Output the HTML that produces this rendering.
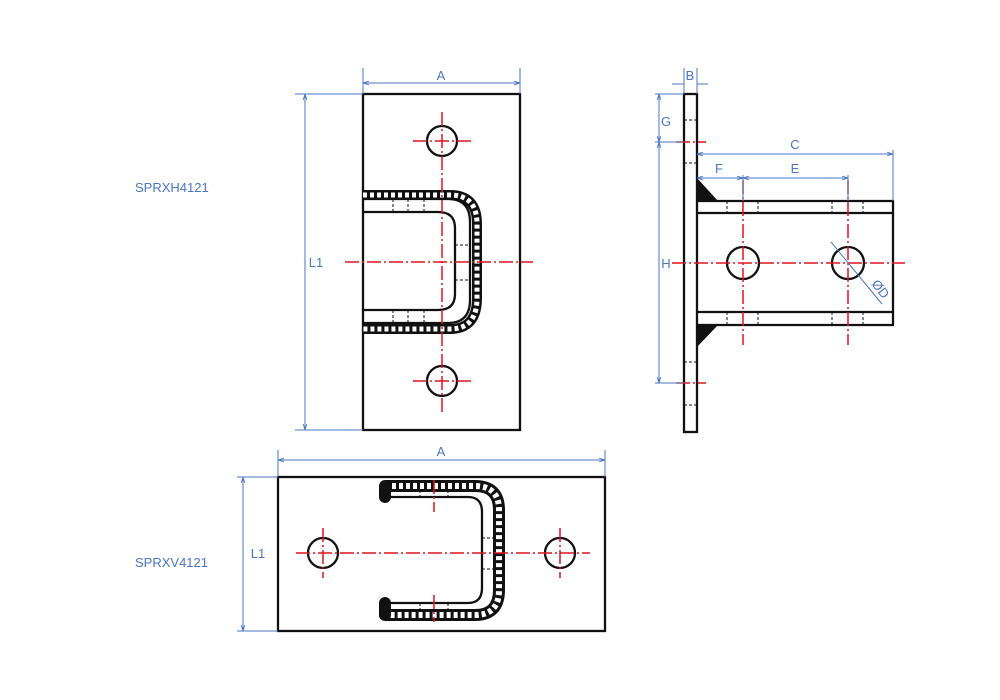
<!DOCTYPE html>
<html><head><meta charset="utf-8"><style>
html,body{margin:0;padding:0;background:#fff;width:1000px;height:700px;overflow:hidden}
svg{display:block}
text{font-family:"Liberation Sans",sans-serif;fill:#4a76c0;font-size:13px}
</style></head><body>
<svg width="1000" height="700" viewBox="0 0 1000 700">
<defs>
<marker id="ar" viewBox="0 0 10 10" refX="10" refY="5" markerWidth="6" markerHeight="6" orient="auto-start-reverse"><path d="M0,2 L10,5 L0,8" fill="none" stroke="#4a76c0" stroke-width="1.5"/></marker>
</defs>
<g fill="none" stroke="#111" stroke-width="2.3">
<!-- top view -->
<rect x="363" y="94" width="157" height="336"/>
<circle cx="442" cy="141" r="15"/><circle cx="442" cy="381" r="15"/>
<path d="M363,212 H438 Q455,212 455,228 V294 Q455,310 438,310 H363"/>
<path d="M363,199 H448 Q470,199 470,222 V300 Q470,323 448,323 H363"/>
</g>
<g fill="none">
<path d="M363,195 H450 Q477,195 477,224 V298 Q477,329 450,329 H363" stroke="#111" stroke-width="10"/>
<path d="M363,195 H450 Q477,195 477,224 V298 Q477,329 450,329 H363" stroke="#fff" stroke-width="5" stroke-dasharray="4 3"/>
</g>
<g stroke="#111" stroke-width="1" stroke-dasharray="3 2">
<path d="M393,199V212M408,199V212M424,199V212M393,310V323M408,310V323M424,310V323M455,245H470M455,280H470"/>
</g>
<!-- side view -->
<g fill="none" stroke="#111" stroke-width="2.3">
<rect x="684" y="94" width="13" height="338"/>
<path d="M697,201 H893 V325 H697 M697,213 H893 M697,312 H893"/>
<circle cx="743" cy="263" r="16"/><circle cx="848" cy="263" r="16"/>
</g>
<path d="M697,178 L718,201 L697,201Z M697,325 L718,325 L697,347Z" fill="#111"/>
<g stroke="#111" stroke-width="1" stroke-dasharray="3 2">
<path d="M684,120H697M684,163H697M684,362H697M684,405H697M727,201V213M758,201V213M832,201V213M863,201V213M727,312V325M758,312V325M832,312V325M863,312V325"/>
</g>
<!-- bottom view -->
<g fill="none" stroke="#111" stroke-width="2.3">
<rect x="278" y="477" width="327" height="154"/>
<circle cx="323" cy="553" r="15"/><circle cx="560" cy="553" r="15"/>
<path d="M390,497 H468 Q482,497 482,512 V588 Q482,603 468,603 H390"/>
</g>
<g fill="none">
<path d="M385,486 H475 Q499,486 499,510 V590 Q499,615 475,615 H385" stroke="#111" stroke-width="12"/>
<path d="M385,486 H475 Q499,486 499,510 V590 Q499,615 475,615 H385" stroke="#fff" stroke-width="6" stroke-dasharray="4 3"/>
<path d="M385,486 V497 M385,615 V603" stroke="#111" stroke-width="12" stroke-linecap="round"/>
</g>
<g stroke="#111" stroke-width="1" stroke-dasharray="3 2">
<path d="M420,490V497M448,490V497M420,603V610M448,603V610M482,538H493M482,569H493"/>
</g>
<!-- red center lines -->
<g stroke="#e0141e" stroke-width="1.5" stroke-dasharray="14 3 2 3" fill="none">
<path d="M345,262H533 M442,112V412 M413,141H471 M413,381H471"/>
<path d="M672,263H905 M743,180V345 M848,180V345 M676,142H706 M676,383H706"/>
<path d="M296,553H590 M323,528V578 M560,528V578 M434,480V512 M434,595V622"/>
</g>
<!-- blue dims -->
<g stroke="#4a76c0" stroke-width="1" fill="none">
<path d="M363,68V94 M520,68V94"/><path d="M363,83H520" marker-start="url(#ar)" marker-end="url(#ar)"/>
<path d="M295,94H363 M295,430H363"/><path d="M305,94V430" marker-start="url(#ar)" marker-end="url(#ar)"/>
<path d="M684,68V94 M697,68V94 M672,84H684 M697,84H708"/>
<path d="M655,94H684 M655,142H684 M655,383H684"/>
<path d="M659,94V142" marker-start="url(#ar)" marker-end="url(#ar)"/>
<path d="M659,142V383" marker-start="url(#ar)" marker-end="url(#ar)"/>
<path d="M893,150V201"/><path d="M697,154H893" marker-start="url(#ar)" marker-end="url(#ar)"/>
<path d="M743,175V201 M848,175V201"/>
<path d="M697,178H743" marker-start="url(#ar)" marker-end="url(#ar)"/>
<path d="M743,178H848" marker-start="url(#ar)" marker-end="url(#ar)"/>
<path d="M831,242L882,304"/>
<path d="M278,450V477 M605,450V477"/><path d="M278,460H605" marker-start="url(#ar)" marker-end="url(#ar)"/>
<path d="M237,477H278 M237,631H278"/><path d="M243,477V631" marker-start="url(#ar)" marker-end="url(#ar)"/>
</g>
<text x="441" y="80" text-anchor="middle">A</text>
<text x="316" y="267" text-anchor="middle">L1</text>
<text x="690" y="80" text-anchor="middle">B</text>
<text x="666" y="126" text-anchor="middle">G</text>
<text x="666" y="268" text-anchor="middle">H</text>
<text x="795" y="149" text-anchor="middle">C</text>
<text x="719" y="173" text-anchor="middle">F</text>
<text x="795" y="173" text-anchor="middle">E</text>
<text x="0" y="0" transform="translate(871,284) rotate(52)">ØD</text>
<text x="441" y="456" text-anchor="middle">A</text>
<text x="258" y="558" text-anchor="middle">L1</text>
<text x="135" y="192">SPRXH4121</text>
<text x="135" y="567">SPRXV4121</text>
</svg>
</body></html>
